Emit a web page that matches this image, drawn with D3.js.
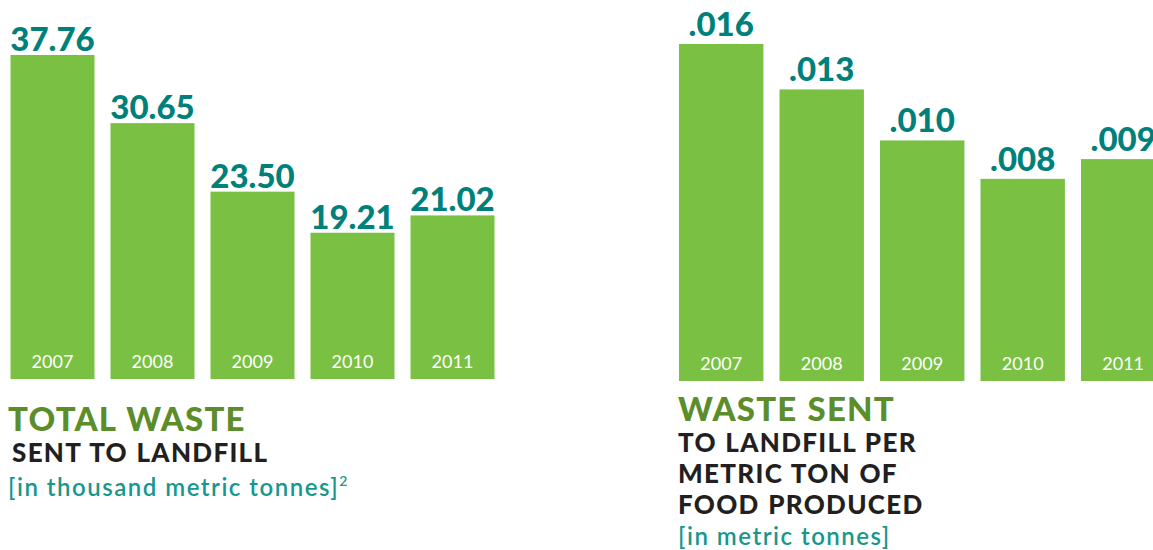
<!DOCTYPE html>
<html>
<head>
<meta charset="utf-8">
<script src="https://cdn.jsdelivr.net/npm/d3@7"></script>
<style>
  body { margin: 0; background: #fff; }
  svg { display: block; font-family: Lato, "Open Sans", sans-serif; }
</style>
</head>
<body>
<script>
// years shown in both charts
var years = ['2007', '2008', '2009', '2010', '2011'];

// total waste sent to landfill, thousand metric tonnes
var totalWaste = [37.76, 30.65, 23.50, 19.21, 21.02];
var totalLabels = ['37.76', '30.65', '23.50', '19.21', '21.02'];

// waste to landfill per metric ton of food produced
var perTon = [0.016, 0.013, 0.010, 0.008, 0.009];
var perTonLabels = ['.016', '.013', '.010', '.008', '.009'];

var width = 1153, height = 550;

var colors = {
  bar: '#7ac143',
  value: '#00807a',
  title: '#5b8d2b',
  sub: '#231f20',
  unit: '#17978e'
};

var svg = d3.select('body').append('svg')
  .attr('width', width)
  .attr('height', height);

// draws one bar panel
function panel(opts) {
  var g = svg.append('g');

  var x = d3.scaleBand()
    .domain(years)
    .range(opts.xRange)
    .paddingInner(0.16);

  var y = opts.y;

  var data = years.map(function(d, i) {
    return { year: d, value: opts.values[i], label: opts.labels[i] };
  });

  g.selectAll('rect')
    .data(data)
    .enter().append('rect')
    .attr('x', function(d) { return x(d.year); })
    .attr('y', function(d) { return y(d.value); })
    .attr('width', x.bandwidth())
    .attr('height', function(d) { return opts.base - y(d.value); })
    .attr('fill', colors.bar);

  // value above each bar
  g.selectAll('text.value')
    .data(data)
    .enter().append('text')
    .attr('class', 'value')
    .attr('x', function(d) { return x(d.year) + x.bandwidth() / 2; })
    .attr('y', function(d) { return y(d.value) - opts.gap; })
    .attr('text-anchor', 'middle')
    .attr('font-size', 33)
    .attr('font-weight', 900)
    .attr('fill', colors.value)
    .text(function(d) { return d.label; });

  // year inside the bar foot
  g.selectAll('text.year')
    .data(data)
    .enter().append('text')
    .attr('class', 'year')
    .attr('x', function(d) { return x(d.year) + x.bandwidth() / 2; })
    .attr('y', opts.base - 11)
    .attr('text-anchor', 'middle')
    .attr('font-size', 18)
    .attr('fill', '#fff')
    .text(function(d) { return d.year; });

  // title block
  var t = opts.title;
  g.append('text')
    .attr('x', t.x)
    .attr('y', t.y)
    .attr('font-size', 33)
    .attr('font-weight', 900)
    .attr('letter-spacing', 1.2)
    .attr('word-spacing', 1)
    .attr('fill', colors.title)
    .text(t.head);

  t.lines.forEach(function(line, i) {
    g.append('text')
      .attr('x', t.x + t.indent)
      .attr('y', t.y + 31 + i * 31)
      .attr('font-size', 26)
      .attr('font-weight', 900)
      .attr('letter-spacing', 1.3)
      .attr('word-spacing', 1)
      .attr('fill', colors.sub)
      .text(line);
  });

  var unit = g.append('text')
    .attr('x', t.x)
    .attr('y', t.y + 31 + (t.lines.length - 1) * 31 + t.unitGap)
    .attr('font-size', 24)
    .attr('font-weight', 600)
    .attr('letter-spacing', 1.5)
    .attr('fill', colors.unit)
    .text(t.unit);
  if (t.sup) {
    unit.append('tspan')
      .attr('font-size', 14)
      .attr('dy', -10)
      .attr('letter-spacing', 0)
      .text(t.sup);
  }
}

panel({
  xRange: [10.5, 494.5],
  base: 379,
  gap: 4,
  y: d3.scaleLinear().domain([3.95, 37.76]).range([379, 55]),
  values: totalWaste,
  labels: totalLabels,
  title: {
    x: 8, y: 431, indent: 4,
    head: 'TOTAL WASTE',
    lines: ['SENT TO LANDFILL'],
    unit: '[in thousand metric tonnes]',
    sup: '2',
    unitGap: 34
  }
});

panel({
  xRange: [679, 1165.4],
  base: 381,
  gap: 8,
  y: d3.scaleSqrt().domain([0.00115, 0.016]).range([381, 44]),
  values: perTon,
  labels: perTonLabels,
  title: {
    x: 678, y: 421, indent: 0,
    head: 'WASTE SENT',
    lines: ['TO LANDFILL PER', 'METRIC TON OF', 'FOOD PRODUCED'],
    unit: '[in metric tonnes]',
    sup: null,
    unitGap: 31
  }
});
</script>
</body>
</html>
